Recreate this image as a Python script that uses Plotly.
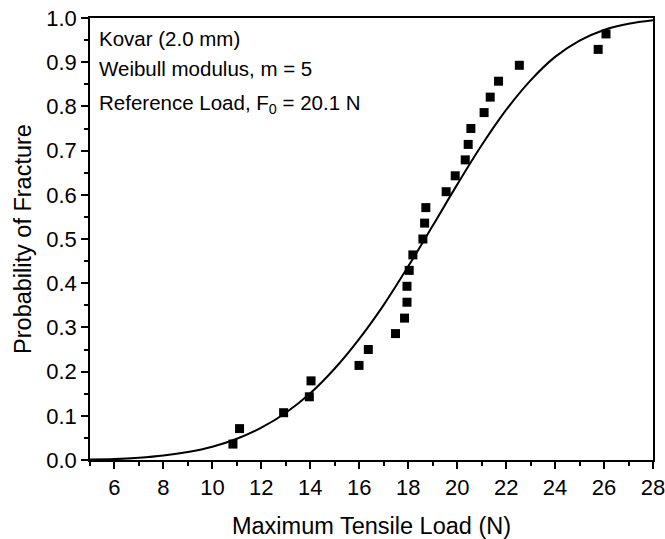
import plotly.graph_objects as go

# Measured data (Maximum Tensile Load, N) and probability of fracture
load_n = [10.84, 11.11, 12.91, 13.96, 14.03, 15.99, 16.37, 17.48, 17.85, 17.95,
          17.95, 18.04, 18.19, 18.60, 18.67, 18.72, 19.55, 19.92, 20.33, 20.45,
          20.56, 21.10, 21.35, 21.69, 22.54, 25.76, 26.08]
prob_fracture = [0.036, 0.071, 0.107, 0.143, 0.179, 0.214, 0.250, 0.286, 0.321, 0.357,
                 0.393, 0.429, 0.464, 0.500, 0.536, 0.571, 0.607, 0.643, 0.679, 0.714,
                 0.750, 0.786, 0.821, 0.857, 0.893, 0.929, 0.964]

# Fitted curve
curve_x = [5, 6, 7, 8, 9, 10, 11, 12, 13, 14, 15, 16, 17, 18, 19, 20, 21, 22,
           23, 24, 25, 26, 27, 28]
curve_y = [0.001, 0.002, 0.005, 0.010, 0.018, 0.030, 0.048, 0.073, 0.107, 0.151,
           0.207, 0.274, 0.351, 0.438, 0.530, 0.623, 0.712, 0.792, 0.859, 0.912,
           0.949, 0.973, 0.987, 0.995]

x_ticks = [6, 8, 10, 12, 14, 16, 18, 20, 22, 24, 26, 28]
y_ticks = [0.0, 0.1, 0.2, 0.3, 0.4, 0.5, 0.6, 0.7, 0.8, 0.9, 1.0]

notes = ["Kovar (2.0 mm)", "Weibull modulus, m = 5",
         "Reference Load, F<sub>0</sub> = 20.1 N"]

font = "Liberation Sans, Arial, sans-serif"

fig = go.Figure()
fig.add_trace(go.Scatter(x=curve_x, y=curve_y, mode="lines",
                         line=dict(color="black", width=2, shape="spline"),
                         showlegend=False, hoverinfo="skip"))
fig.add_trace(go.Scatter(x=load_n, y=prob_fracture, mode="markers",
                         marker=dict(symbol="square", size=9, color="black"),
                         showlegend=False))

axis_common = dict(showline=True, linecolor="black", linewidth=1.5, mirror=True,
                   ticks="outside", ticklen=7, tickwidth=1.5, tickcolor="black",
                   showgrid=False, zeroline=False, automargin=False,
                   ticklabeloverflow="allow",
                   tickfont=dict(family=font, size=22, color="black"))

fig.update_xaxes(range=[5, 28], tickvals=x_ticks,
                 ticktext=[str(v) for v in x_ticks],
                 minor=dict(ticks="outside", ticklen=4, tickwidth=1.5,
                            tickcolor="black", dtick=1, tick0=5),
                 title=dict(text="Maximum Tensile Load (N)", standoff=18,
                            font=dict(family=font, size=23.5, color="black")),
                 **axis_common)
fig.update_yaxes(range=[0, 1.0], tickvals=y_ticks,
                 ticktext=[f"{v:.1f}" for v in y_ticks],
                 minor=dict(ticks="outside", ticklen=4, tickwidth=1.5,
                            tickcolor="black", dtick=0.05, tick0=0),
                 title=dict(text="Probability of Fracture", standoff=8,
                            font=dict(family=font, size=23.5, color="black")),
                 **axis_common)

ann_y = [0.953, 0.886, 0.805]
for t, yy in zip(notes, ann_y):
    fig.add_annotation(text=t, xref="paper", yref="paper", x=0.012, y=yy,
                       xanchor="left", yanchor="middle", showarrow=False,
                       font=dict(family=font, size=20.5, color="black"))

fig.update_layout(width=665, height=539,
                  margin=dict(l=90, r=12, t=18, b=79),
                  plot_bgcolor="white", paper_bgcolor="white")

# remove the default page margin so the figure fills the window exactly
page_fix = ("document.body.style.margin='0';"
            "document.documentElement.style.overflow='hidden';")
fig.write_html("out.html", post_script=page_fix,
               config={"displayModeBar": False})
